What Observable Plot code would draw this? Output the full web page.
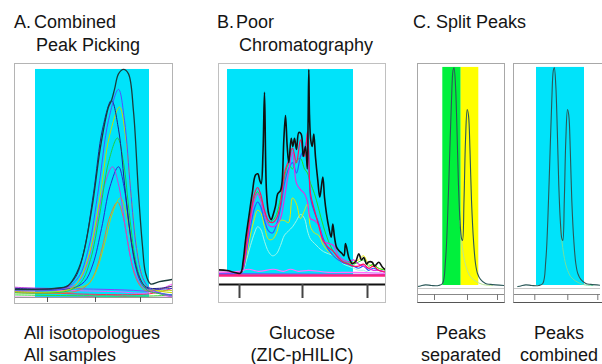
<!DOCTYPE html>
<html><head><meta charset="utf-8">
<script src="https://cdn.jsdelivr.net/npm/d3@7"></script>
<script src="https://cdn.jsdelivr.net/npm/@observablehq/plot@0.6"></script>
<style>
html,body{margin:0;padding:0;background:#fff;}
body{width:602px;height:364px;overflow:hidden;position:relative;font-family:"Liberation Sans",Arial,sans-serif;}
.t{position:absolute;font-size:18px;line-height:18px;color:#141414;white-space:nowrap;}
.c{text-align:center;}
.pan{position:absolute;}
.pan svg{display:block;max-width:none !important;}
.bd{position:absolute;box-sizing:border-box;pointer-events:none;}
</style></head><body>
<div class="t" style="left:14px;top:13px">A.</div>
<div class="t" style="left:34px;top:13px">Combined</div>
<div class="t" style="left:36px;top:36px">Peak Picking</div>
<div class="t" style="left:217px;top:13px">B.</div>
<div class="t" style="left:236px;top:13px">Poor</div>
<div class="t" style="left:239px;top:36px">Chromatography</div>
<div class="t" style="left:413px;top:13px">C. Split Peaks</div>

<div id="pA" class="pan" style="left:14px;top:63px;width:158px"></div>
<div id="pB" class="pan" style="left:218px;top:63px;width:168px"></div>
<div id="pC1" class="pan" style="left:417px;top:63px;width:96px"></div>
<div id="pC2" class="pan" style="left:513px;top:63px;width:96px"></div>
<div class="bd" style="left:14px;top:63px;width:159px;height:241px;border:1px solid #b4b4b4"></div>
<div class="bd" style="left:218px;top:63px;width:168px;height:240px;border:1px solid #c0c0c0"></div>
<div class="bd" style="left:417px;top:63px;width:88px;height:240px;border:1px solid #a8a8a8;border-bottom-color:#555"></div>
<div class="bd" style="left:513px;top:63px;width:96px;height:240px;border:1px solid #a8a8a8;border-bottom-color:#555"></div>

<div class="t" style="left:24px;top:324px">All isotopologues</div>
<div class="t" style="left:24px;top:346px">All samples</div>
<div class="t c" style="left:232px;width:140px;top:324px">Glucose</div>
<div class="t c" style="left:232px;width:140px;top:346px">(ZIC-pHILIC)</div>
<div class="t c" style="left:411px;width:100px;top:324px">Peaks</div>
<div class="t c" style="left:411px;width:100px;top:346px">separated</div>
<div class="t c" style="left:509px;width:100px;top:324px">Peaks</div>
<div class="t c" style="left:509px;width:100px;top:346px">combined</div>

<script>
// ---------- Panel A: combined peak picking (x = scan, y = % intensity) ----------
const ticksA = [33, 81, 126];
const windowA = [{x1: 21, x2: 135, y1: -3.2, y2: 100}];
const aBlack   = [[0,0.5],[40,1],[53,2],[60,6],[68,15],[78,39],[86,65],[94,83],[97,86],[100,91],[104,98],[109,100],[114,98],[119,81],[124,44],[128,20],[131,8],[136,3],[145,4],[158,5]];
const aBlue    = [[0,0],[50,1],[64,6],[74,19],[84,46],[94,77],[104,91],[110,77],[116,46],[122,19],[128,6],[134,1.5],[145,-1],[158,-2]];
const aNavy    = [[0,1],[50,1.5],[61,6],[70,19],[79,44],[88,73],[97,86],[104,73],[111,44],[118,19],[125,6],[132,1.5],[145,1],[158,2]];
const aYellowG = [[0,-0.5],[55,0.5],[65,5],[75,17],[85,41],[95,70],[105,83],[111,70],[117,41],[123,17],[129,5],[135,1],[158,-1]];
const aGreen   = [[0,-1],[55,0],[67,4],[76,14],[85,34],[94,58],[103,69],[109,58],[115,34],[121,14],[127,4],[133,0],[158,-2]];
const aMagenta = [[0,1.5],[55,1.5],[64,4],[72.5,12],[81,28],[89.5,47],[98,56],[104.5,47],[111,28],[117.5,12],[124,4],[130,1],[158,-3]];
const aBlue2   = [[0,0.5],[57,1],[70,4],[78.5,12],[87,28],[95.5,47],[104,56],[109.5,47],[115,28],[120.5,12],[126,4],[132,1],[158,1]];
const aYellowG2= [[0,0],[60,1],[74,3],[82,9],[90,21],[98,35],[106,42],[111.5,35],[117,21],[122.5,9],[128,3],[134,0.5],[158,0]];
const aOrange  = [[0,-1],[60,-0.5],[73,2.5],[80.5,8],[88,20],[95.5,33.6],[103,40],[108.5,33.6],[114,20],[119.5,8],[125,2.5],[131,0],[158,2]];
const aPink    = [[0,0.5],[100,-0.5],[135,-1],[158,3]];
const aRed     = [[0,-0.5],[135,-1.5],[158,1]];
const aLime    = [[0,-2],[135,-2.5],[158,-2]];
const aPurple  = [[0,1],[60,0.8],[135,-0.5],[158,-2.5]];
const aLow     = [[0,-3],[70,-2.9],[93,-2],[115,-2.9],[158,-3]];
const seriesA = [
  [aLow,"#e040e0"],[aLime,"#30e030"],[aRed,"#ff3050"],[aPurple,"#8040ff"],[aPink,"#ff50ff"],
  [aOrange,"#d88040"],[aYellowG2,"#b0d020"],[aBlue2,"#2a2ad0"],[aMagenta,"#c040e0"],[aGreen,"#20d040"],
  [aYellowG,"#c8dc00"],[aNavy,"#20208c"],[aBlue,"#5050ff"],[aBlack,"#1a3c3c"]
];

// ---------- Panel B: poor chromatography ----------
const ticksB = [21, 84, 149];
const windowB = [{x1: 9, x2: 135, y1: 0, y2: 100}];
const bBlack = [[0,3.2],[8.7,2.9],[15.3,2.1],[22,1.6],[24.7,7.7],[27,17.4],[30.3,28.7],[33.7,40],[37,49],[39.3,49.6],[41.3,46.4],[42.7,44.8],[44.5,60],[46,89],[48,41],[50.3,30],[52.7,27.5],[54.7,30],[57,34],[59.3,40],[62,41.5],[63.7,46.4],[65.3,65.7],[67,77.8],[68.7,62.8],[70.3,54.9],[72.7,66.8],[74.3,62.8],[76,66.8],[78,61.4],[80.3,69.6],[82.7,68.8],[84.7,58],[87,62.8],[88.8,52],[89.6,75],[90.3,100],[91,78],[92.3,65.7],[93.7,62.8],[95.3,68.8],[97,57.6],[99.3,46.4],[101.3,38.3],[104.3,48],[106,38.3],[108,30.3],[110.3,23.7],[112.7,19],[114.3,25.4],[116,19],[118,14.2],[120.3,12.6],[123.7,11],[125.5,10],[127,15.9],[130.3,9.2],[132,7.4],[133.7,6.3],[137,7.1],[140.3,11],[143,8],[145.3,9.2],[148,6],[150,7],[153.7,6.9],[156,5],[160.3,6.9],[164,4.5],[168,2.9]];
const gridB = [0,12,22,25,28,32,36,39,42,46,50,54,58,62,66,70,74,78,82,86,89,92,96,100,105,110,115,120,125,130,135,140,145,150,155,160,168];
const bRed     = [1.5,1.5,1.5,6,16,30,40,43,40,32,27,26,28,35,50,56,62,55,66,58,70,40,32,25,17,14,12,9,7,6,5,5,6,4,5,3,2];
const bBlue    = [1,1,1,4,12,24,33,36,34,27,22,21,25,33,45,52,55,50,58,62,66,38,31,26,18,13,10,8,6.5,6,5,4,5,3,4,3,2];
const bGreen   = [2,2,2,6,15,28,38,41,38,30,26,27,30,38,48,54,52,56,57,52,50,45,40,33,24,17,12,9,7,7,6,7,8,5,6,4,3];
const bYellow  = [1,1,1,4,10,20,28,32,31,24,18,18,21,27,27,26,38,35,28,32,35,24,21,20,15,12,10,8,7,6,7,8,10,6,5,4,3];
const bMagenta = [2,2,2,5,14,27,37,40,37,30,25,24,25,28,38,50,60,45,42,40,36,28,27,25,17,16,15,10,8,7,8,6,5,4,3,3,2];
const bAqua    = [1,1,1,3,8,15,21,24,23,17,12,10,11,15,20,22,24,27,30,28,22,18,16,14,12,11,10,8,6,5,4,3,3,2,2,2,1];
const bPinkBase = [[0,0.5],[168,0.5]];
const bLilacBase = [[0,2],[20,2.5],[30,3.5],[40,2.5],[55,3.5],[65,2.5],[72,3.5],[80,2.5],[90,3],[110,2],[135,2],[168,1.5]];
const bBlueBase = [[0,1.5],[168,1]];
const seriesB = [
  [gridB.map((x,i)=>[x,bAqua[i]]),"#a0f8e8",1],
  [gridB.map((x,i)=>[x,bYellow[i]]),"#e8e800",1],
  [gridB.map((x,i)=>[x,bGreen[i]]),"#20e020",1],
  [gridB.map((x,i)=>[x,bBlue[i]]),"#2060ff",1.2],
  [gridB.map((x,i)=>[x,bMagenta[i]]),"#e030e0",1.2],
  [gridB.map((x,i)=>[x,bRed[i]]),"#ff1060",1.2],
  [bBlueBase,"#6060ff",1],[bLilacBase,"#ff70ff",1.2],[bPinkBase,"#ff2080",2.5],
  [bBlack,"#111111",1.6]
];

// ---------- Panel C: split peaks ----------
const ticksC = [17, 50, 80];
const bandsC1 = [{x1: 25.3, x2: 43.7, fill: "#00f03c"}, {x1: 43.7, x2: 61.3, fill: "#ffff00"}];
const bandsC2 = [{x1: 18.7, x2: 66.7, fill: "#00e3fa"}];
const cTrace = [[0,-0.5],[3,-0.2],[8,0.3],[14,0],[21,0],[25,0.9],[28,11.5],[30,29.8],[32,57.3],[34,84.9],[35.5,98.6],[36.5,100],[38,91.7],[39.5,71.1],[41,45.9],[42.5,29.8],[44,21.6],[45,20.6],[46.5,39],[48,66.5],[49.7,80.7],[51,78],[52.5,61.9],[54,39],[56,20.6],[58,10.1],[60,5.5],[63,2.8],[68,0.9],[73,0.5],[87,0]];
const cTail = [[42.5,29.8],[44,21],[46,14],[49,8],[53,4],[58,2],[65,0.5],[75,0]];

const mount = (id, el) => document.getElementById(id).appendChild(el);
const line = (d, stroke, w) => Plot.line(d, {stroke, strokeWidth: w, curve: "catmull-rom", clip: true});

mount("pA", Plot.plot({
  width: 158, height: 240, marginTop: 0, marginLeft: 0, marginRight: 0, marginBottom: 6,
  style: {maxWidth: "none"},
  x: {domain: [0, 158]}, y: {domain: [-3.17, 102.7], axis: null},
  marks: [
    Plot.rect(windowA, {x1: "x1", x2: "x2", y1: "y1", y2: "y2", fill: "#00e3fa"}),
    ...seriesA.map(([d, c]) => line(d, c, c === "#1a3c3c" ? 1.3 : 1)),
    Plot.ruleY([-3.17], {stroke: "#999", strokeWidth: 1}),
    Plot.axisX(ticksA, {tickSize: 5, tickFormat: () => "", stroke: "#555", label: null})
  ]
}));

mount("pB", Plot.plot({
  width: 168, height: 239, marginTop: 0, marginLeft: 0, marginRight: 0, marginBottom: 18,
  style: {maxWidth: "none"},
  x: {domain: [0, 168]}, y: {domain: [-3.86, 102.9], axis: null},
  marks: [
    Plot.rect(windowB, {x1: "x1", x2: "x2", y1: "y1", y2: "y2", fill: "#00e3fa"}),
    ...seriesB.map(([d, c, w]) => line(d, c, w)),
    Plot.ruleY([-3.86], {stroke: "#111", strokeWidth: 2}),
    Plot.axisX(ticksB, {tickSize: 14, tickFormat: () => "", stroke: "#444", strokeWidth: 2, label: null})
  ]
}));

const panelC = (domain, bands, tailColor) => Plot.plot({
  width: 96, height: 239, marginTop: 0, marginLeft: 0, marginRight: 9, marginBottom: 8,
  style: {maxWidth: "none"},
  x: {domain}, y: {domain: [-4.13, 101.8], axis: null},
  marks: [
    Plot.rect(bands, {x1: "x1", x2: "x2", y1: 0, y2: 100, fill: "fill"}),
    Plot.ruleY([-1.4], {stroke: "#c8c8c8"}),
    line(cTail, tailColor, 1),
    line(cTrace, "#2a5858", 1.1),
    Plot.ruleY([-4.13], {stroke: "#888"}),
    Plot.axisX(ticksC, {tickSize: 6, tickFormat: () => "", stroke: "#777", label: null})
  ]
});
mount("pC1", panelC([0, 87], bandsC1, "#b8e890"));
mount("pC2", panelC([-4.3, 82.7], bandsC2, "#70e0a0"));
</script>
</body></html>
